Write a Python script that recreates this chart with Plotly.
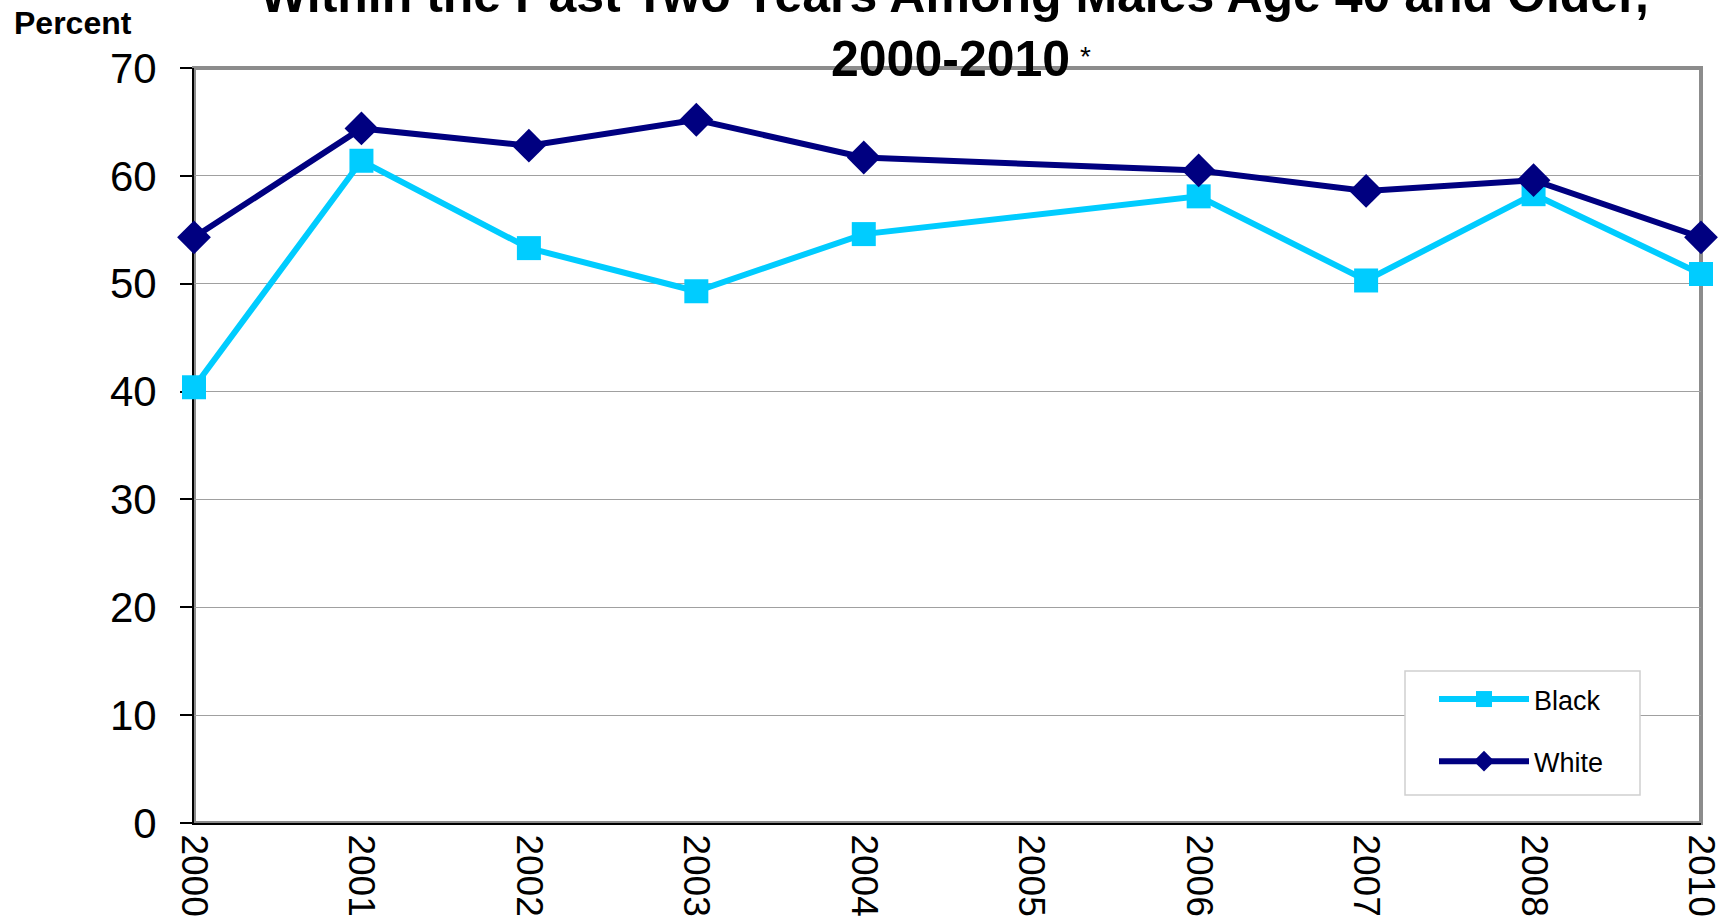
import plotly.graph_objects as go

years = ["2000", "2001", "2002", "2003", "2004", "2005", "2006", "2007", "2008", "2010"]
black = [40.4, 61.4, 53.3, 49.3, 54.6, None, 58.1, 50.3, 58.3, 50.9]
white = [54.3, 64.4, 62.8, 65.2, 61.7, None, 60.5, 58.6, 59.6, 54.3]

title_line1 = "Within the Past Two Years Among Males Age 40 and Older,"
title_line2 = "2000-2010"
y_label = "Percent"

W, H = 1726, 924
L, R, T, B = 194, 25, 68, 101
pw, ph = W - L - R, H - T - B

def px_x(x):
    return (x - L) / pw

def px_y(y):
    return (H - B - y) / ph

fig = go.Figure()
fig.add_trace(go.Scatter(
    x=years, y=black, name="Black", mode="lines+markers", connectgaps=True,
    line=dict(color="#00CCFF", width=6), cliponaxis=False,
    marker=dict(symbol="square", size=24, color="#00CCFF"), legendgroup="b"))
fig.add_trace(go.Scatter(
    x=years, y=white, name="White", mode="lines+markers", connectgaps=True,
    line=dict(color="#000080", width=6), cliponaxis=False,
    marker=dict(symbol="diamond", size=26, color="#000080"), legendgroup="w"))

fig.update_layout(
    width=W, height=H,
    margin=dict(l=L, r=R, t=T, b=B, autoexpand=False),
    paper_bgcolor="white", plot_bgcolor="white",
    font=dict(family="Liberation Sans, Arial, sans-serif", color="black"),
    showlegend=True,
    legend=dict(
        x=px_x(1434), y=px_y(675), xanchor="left", yanchor="top",
        bgcolor="rgba(0,0,0,0)", borderwidth=0,
        font=dict(size=27), itemwidth=90, tracegroupgap=24,
        traceorder="grouped",
    ),
    xaxis=dict(
        type="category", categoryorder="array", categoryarray=years,
        range=[0, 9], tickangle=90, tickfont=dict(size=37),
        showgrid=False, showline=True, linecolor="black", linewidth=2,
        ticks="", layer="below traces", ticklabelstandoff=2,
    ),
    yaxis=dict(
        range=[0, 70], dtick=10, tickfont=dict(size=42),
        showgrid=True, gridcolor="#A0A0A0", gridwidth=1,
        showline=True, linecolor="black", linewidth=2,
        ticks="outside", ticklen=12, tickcolor="black", tickwidth=1.5,
        layer="below traces", zeroline=False, ticklabelstandoff=15,
    ),
)

# plot-area frame
fig.add_shape(type="rect", xref="paper", yref="paper", x0=0, x1=1, y0=0, y1=1,
              line=dict(color="#8C8C8C", width=4), layer="between")
# legend box
fig.add_shape(type="rect", xref="paper", yref="paper",
              x0=px_x(1405), x1=px_x(1640), y0=px_y(795), y1=px_y(671),
              line=dict(color="#D0D0D0", width=1.5), fillcolor="white", layer="above")

fig.add_annotation(text="<b>" + title_line1 + "</b>", xref="paper", yref="paper",
                   x=px_x(954), y=px_y(25), xanchor="center", yanchor="bottom",
                   showarrow=False, font=dict(size=50))
fig.add_annotation(text="<b>" + title_line2 + "</b>", xref="paper", yref="paper",
                   x=px_x(951), y=px_y(89), xanchor="center", yanchor="bottom",
                   showarrow=False, font=dict(size=50))
fig.add_annotation(text="*", xref="paper", yref="paper",
                   x=px_x(1085), y=px_y(56), xanchor="center", yanchor="middle",
                   showarrow=False, font=dict(size=28))
fig.add_annotation(text="<b>" + y_label + "</b>", xref="paper", yref="paper",
                   x=px_x(12), y=px_y(23), xanchor="left", yanchor="middle",
                   showarrow=False, font=dict(size=32))

fig.write_html("out.html", config={"displayModeBar": False},
               post_script="document.body.style.margin='0';")
